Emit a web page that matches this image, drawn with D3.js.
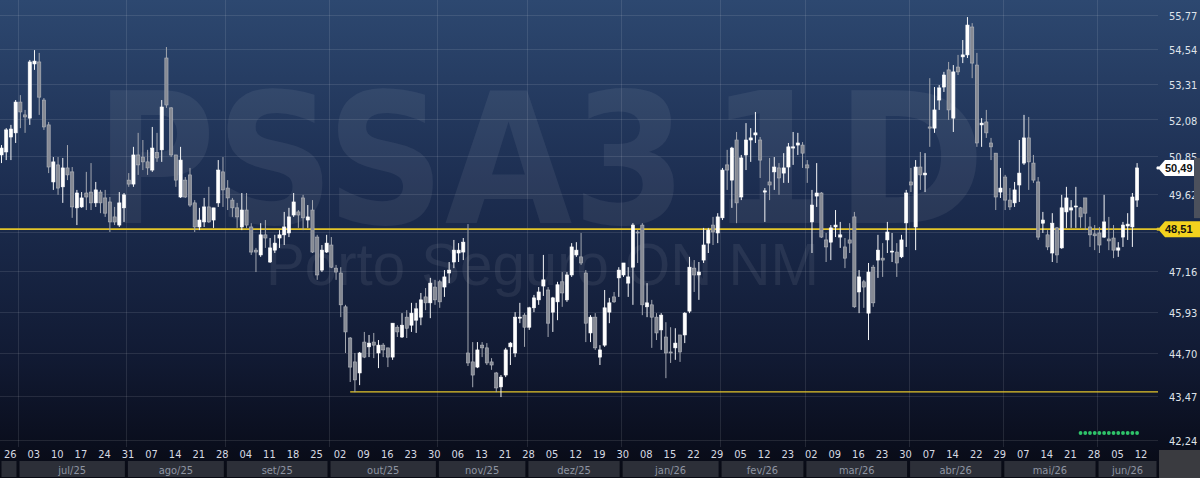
<!DOCTYPE html>
<html>
<head>
<meta charset="utf-8">
<script src="https://cdn.jsdelivr.net/npm/d3@7"></script>
<style>
  html, body { margin: 0; padding: 0; background: #090b14; overflow: hidden; }
  svg { display: block; }
</style>
</head>
<body>
<svg id="chart" width="1200" height="478"></svg>
<script>
// trading calendar (B3), daily bars
const firstDay = "2025-06-24";
const lastDay = "2026-06-12";
const holidays = ["2025-11-20", "2025-12-24", "2025-12-25", "2025-12-31", "2026-01-01",
  "2026-02-16", "2026-02-17", "2026-04-03", "2026-04-21", "2026-05-01", "2026-06-04"];
const monthNames = ["jan", "fev", "mar", "abr", "mai", "jun", "jul", "ago", "set", "out", "nov", "dez"];

const priceTicks = [42.24, 43.47, 44.70, 45.93, 47.16, 48.39, 49.62, 50.85, 52.08, 53.31, 54.54, 55.77];

const openV = [51.00, 50.92, 51.02, 51.52, 51.66, 52.71, 52.27, 52.16, 54.04, 54.11,
  52.78, 51.93, 50.03, 50.59, 49.87, 50.49, 50.36, 49.19, 49.22, 49.67,
  49.70, 49.35, 49.70, 49.51, 49.38, 48.90, 48.64, 49.19, 50.09, 49.96,
  50.92, 50.85, 50.69, 50.42, 51.00, 51.09, 54.25, 52.51, 50.92, 49.54,
  50.09, 50.26, 49.35, 48.58, 48.74, 49.22, 48.80, 49.35, 50.36, 49.83,
  49.44, 49.19, 48.58, 49.12, 48.58, 47.85, 47.70, 48.33, 47.48, 47.85,
  48.23, 48.33, 48.39, 48.96, 49.06, 49.51, 48.80, 49.12, 48.26, 47.23,
  47.79, 48.01, 47.29, 47.14, 46.11, 45.18, 44.48, 44.16, 45.06, 44.92,
  45.06, 44.74, 44.97, 44.89, 44.62, 45.50, 45.21, 45.80, 45.56, 45.71,
  45.80, 46.41, 46.23, 46.71, 46.87, 46.71, 47.14, 47.48, 47.76, 47.79,
  44.74, 44.48, 44.33, 44.97, 44.89, 44.48, 44.16, 43.76, 44.10, 44.92,
  44.74, 45.77, 45.86, 45.50, 46.08, 46.32, 46.74, 46.62, 45.95, 46.26,
  46.87, 46.32, 47.08, 47.70, 47.64, 47.14, 45.33, 45.80, 44.62, 44.97,
  45.95, 46.41, 46.99, 47.08, 46.83, 47.32, 48.42, 48.64, 46.11, 46.17,
  45.80, 45.42, 45.21, 44.77, 44.89, 45.27, 45.27, 45.98, 47.29, 47.08,
  47.54, 48.07, 48.64, 48.39, 48.87, 50.59, 50.09, 51.42, 49.54, 50.92,
  51.42, 51.59, 51.42, 49.70, 50.03, 50.36, 50.49, 50.32, 50.52, 51.15,
  51.25, 51.25, 50.59, 48.74, 49.57, 49.67, 48.17, 48.10, 48.58, 48.26,
  47.95, 48.17, 48.90, 46.56, 46.87, 45.92, 47.32, 47.54, 47.60, 48.17,
  47.79, 47.79, 47.64, 48.71, 50.03, 48.58, 50.52, 50.26, 51.86, 51.82,
  52.78, 53.23, 53.83, 52.16, 53.93, 54.29, 54.36, 55.36, 54.00, 51.93,
  52.03, 51.32, 50.98, 49.70, 50.19, 49.44, 49.35, 49.93, 50.65, 51.49,
  50.65, 50.03, 48.70, 48.33, 47.76, 48.55, 47.92, 49.06, 49.12, 49.22,
  49.19, 49.51, 48.58, 48.36, 48.39, 48.26, 48.20, 48.23, 47.85, 48.26,
  48.61, 48.58, 49.44];

const highV = [51.20, 51.25, 51.82, 51.93, 52.78, 52.95, 52.44, 54.18, 54.53, 54.43,
  52.85, 52.03, 50.85, 50.85, 50.82, 51.25, 50.52, 49.77, 49.70, 50.36,
  50.65, 50.03, 49.77, 49.77, 49.54, 49.22, 49.70, 49.67, 50.32, 51.19,
  51.66, 51.42, 51.09, 51.86, 51.66, 52.78, 54.64, 52.54, 50.92, 51.19,
  50.19, 50.49, 49.44, 49.19, 49.51, 49.87, 49.19, 50.75, 50.85, 50.09,
  49.51, 49.35, 49.67, 49.67, 48.70, 47.92, 48.70, 48.80, 48.23, 48.33,
  48.48, 49.06, 49.19, 49.67, 49.12, 49.61, 49.28, 49.44, 48.33, 48.01,
  48.33, 48.26, 47.39, 47.32, 46.17, 45.21, 44.74, 44.77, 45.36, 45.27,
  45.33, 45.12, 45.03, 44.89, 45.62, 45.56, 45.92, 46.01, 46.23, 46.23,
  46.53, 46.68, 46.99, 46.93, 46.93, 47.23, 47.48, 48.17, 48.07, 48.23,
  48.67, 45.06, 45.06, 45.06, 45.03, 44.59, 44.19, 44.10, 44.89, 45.06,
  45.95, 46.23, 45.92, 46.11, 46.47, 46.71, 47.70, 46.71, 46.41, 46.87,
  47.17, 47.17, 48.07, 48.10, 48.39, 47.23, 45.86, 45.92, 44.97, 46.62,
  46.38, 46.56, 47.32, 47.45, 47.32, 48.70, 48.48, 48.70, 46.83, 46.32,
  45.92, 45.92, 45.65, 45.50, 45.47, 45.27, 45.95, 47.64, 47.54, 47.48,
  48.55, 48.55, 48.90, 49.02, 50.49, 51.09, 51.19, 51.69, 50.92, 51.99,
  51.82, 52.37, 51.52, 49.83, 50.82, 50.85, 50.65, 50.98, 51.32, 51.69,
  51.66, 51.35, 50.75, 49.77, 50.65, 49.70, 48.39, 48.64, 49.12, 48.74,
  48.23, 48.70, 49.06, 47.23, 46.93, 47.45, 47.39, 48.33, 48.07, 48.74,
  48.39, 48.07, 48.33, 49.77, 50.49, 50.75, 51.02, 50.98, 53.54, 53.23,
  53.30, 53.76, 54.11, 54.00, 54.36, 54.89, 55.72, 55.50, 54.43, 52.16,
  52.44, 51.49, 50.98, 50.49, 50.26, 49.83, 50.03, 51.42, 52.27, 52.20,
  50.92, 50.19, 49.06, 48.48, 49.02, 48.58, 49.61, 49.87, 49.44, 49.87,
  49.22, 49.51, 48.90, 48.64, 48.58, 49.61, 48.90, 48.64, 48.10, 48.74,
  49.02, 49.67, 50.65];

const lowV = [50.70, 50.65, 50.75, 50.75, 51.32, 51.82, 51.66, 51.93, 53.83, 52.27,
  51.76, 50.32, 49.77, 49.61, 49.35, 50.09, 48.87, 48.64, 49.19, 49.12,
  49.12, 49.22, 49.02, 48.90, 48.42, 48.64, 48.58, 48.74, 49.87, 49.87,
  50.26, 50.42, 50.26, 50.36, 50.69, 50.69, 52.51, 50.85, 49.87, 49.51,
  49.51, 49.22, 48.42, 48.48, 48.58, 48.71, 48.55, 49.22, 49.22, 49.12,
  48.90, 48.55, 48.48, 48.55, 47.70, 47.17, 47.64, 47.92, 47.45, 47.76,
  47.92, 48.01, 48.26, 48.90, 48.55, 48.48, 48.55, 47.76, 46.93, 47.17,
  47.76, 47.29, 46.93, 45.80, 44.74, 43.90, 43.61, 43.81, 44.59, 44.62,
  44.59, 44.30, 44.62, 44.33, 44.54, 45.21, 45.18, 45.18, 45.36, 45.33,
  45.56, 46.01, 45.77, 46.17, 46.08, 46.41, 46.83, 47.29, 47.48, 47.54,
  44.36, 43.75, 44.30, 44.62, 44.39, 44.25, 43.61, 43.47, 44.04, 44.39,
  44.62, 45.62, 44.92, 45.42, 45.95, 46.17, 46.44, 45.21, 45.36, 45.71,
  46.11, 46.26, 47.02, 47.64, 47.39, 45.06, 45.06, 44.83, 44.39, 44.92,
  45.62, 46.23, 46.41, 47.02, 46.41, 46.17, 47.45, 45.86, 45.80, 44.89,
  45.12, 44.83, 44.01, 44.45, 44.54, 44.48, 45.03, 45.92, 46.56, 46.32,
  47.45, 47.76, 48.01, 48.07, 48.80, 49.77, 49.19, 48.70, 49.44, 50.42,
  50.69, 51.32, 50.16, 48.74, 49.44, 49.77, 49.61, 50.00, 50.00, 50.59,
  50.92, 50.49, 50.00, 47.76, 49.22, 48.23, 47.48, 47.54, 48.26, 47.92,
  47.29, 47.76, 46.08, 45.92, 46.08, 45.12, 46.11, 46.99, 47.02, 47.76,
  47.48, 47.02, 47.60, 47.95, 49.70, 47.85, 49.77, 49.70, 51.19, 51.66,
  52.44, 53.06, 52.10, 51.69, 53.65, 54.07, 54.25, 53.54, 51.19, 51.19,
  51.49, 50.75, 49.12, 49.51, 49.12, 49.12, 49.22, 49.38, 50.59, 49.77,
  50.00, 48.17, 48.39, 47.85, 47.48, 47.45, 47.89, 48.55, 48.55, 48.55,
  48.55, 48.48, 47.95, 47.85, 47.76, 48.23, 47.85, 47.60, 47.64, 47.95,
  48.17, 47.95, 49.22];

const closeV = [50.85, 51.15, 51.76, 51.79, 52.71, 52.37, 52.20, 54.11, 54.14, 52.88,
  51.86, 50.52, 50.69, 49.83, 50.49, 50.26, 49.22, 49.67, 49.51, 49.54,
  49.35, 49.77, 49.35, 49.02, 48.74, 48.74, 49.35, 49.61, 49.96, 50.92,
  50.59, 50.69, 50.49, 51.15, 50.82, 52.54, 52.61, 50.92, 50.09, 50.75,
  49.54, 49.28, 48.58, 48.80, 49.22, 48.74, 49.19, 50.42, 49.77, 49.51,
  49.19, 48.90, 49.12, 48.64, 47.79, 47.79, 48.33, 48.23, 47.92, 48.07,
  48.33, 48.58, 48.90, 49.38, 48.96, 48.87, 48.90, 47.79, 47.08, 47.85,
  48.07, 47.32, 47.17, 46.17, 45.36, 44.33, 43.96, 44.74, 44.62, 45.03,
  44.97, 44.97, 44.83, 44.62, 45.62, 45.36, 45.56, 45.47, 45.92, 46.05,
  46.32, 46.23, 46.83, 46.32, 46.26, 47.02, 47.23, 47.85, 47.85, 48.10,
  44.45, 44.10, 44.83, 44.89, 44.45, 44.39, 43.73, 44.04, 44.83, 45.03,
  45.80, 45.80, 45.50, 46.08, 46.38, 46.56, 46.93, 45.62, 46.38, 46.78,
  46.53, 47.08, 47.95, 47.85, 47.45, 45.62, 45.80, 44.89, 44.83, 46.08,
  46.23, 46.26, 47.23, 47.45, 47.02, 48.64, 48.39, 46.17, 46.23, 45.80,
  45.33, 45.86, 44.74, 44.74, 45.03, 44.77, 45.92, 47.32, 47.08, 47.17,
  48.01, 48.48, 48.42, 48.90, 50.42, 50.42, 51.15, 49.35, 50.82, 51.42,
  51.49, 51.66, 50.75, 49.74, 49.93, 50.52, 50.16, 50.49, 51.19, 51.19,
  51.32, 50.98, 50.49, 49.28, 49.67, 48.26, 47.95, 48.55, 48.64, 48.33,
  47.60, 48.07, 46.11, 47.02, 46.71, 47.17, 46.23, 47.85, 47.54, 48.42,
  47.82, 47.45, 48.17, 49.67, 49.93, 50.52, 50.26, 50.32, 51.82, 52.44,
  53.20, 53.65, 52.44, 53.76, 53.76, 54.36, 55.43, 54.07, 51.32, 51.99,
  51.66, 51.19, 49.54, 49.83, 49.44, 49.22, 49.77, 50.32, 51.49, 50.69,
  50.09, 48.26, 48.80, 47.95, 48.70, 47.70, 49.19, 49.51, 49.19, 49.25,
  48.90, 49.02, 48.33, 48.30, 48.01, 48.74, 48.14, 47.85, 47.92, 48.64,
  48.67, 49.54, 50.49];

const lastPrice = 50.49;
const refLevel = 48.51;
const supportLevel = 43.62;
const supportFromBar = 75;
const signalBars = 13;
const tickerName = "PSSA3";
const periodName = "1D";
const companyName = "Porto Seguro ON NM";

// ---- layout ----
const W = 1200, H = 478;
const plotRight = 1158, plotBottom = 447;
const axisFont = "DejaVu Sans Condensed, DejaVu Sans, sans-serif";

const parseDay = d3.timeParse("%Y-%m-%d");
const fmtDay = d3.timeFormat("%Y-%m-%d");
const dates = d3.timeDay.range(parseDay(firstDay), d3.timeDay.offset(parseDay(lastDay), 1))
  .filter(d => d.getDay() % 6 !== 0 && !holidays.includes(fmtDay(d)));

const bars = closeV.map((c, i) => ({ i, date: dates[i], o: openV[i], h: highV[i], l: lowV[i], c }));

const x = d3.scaleLinear().domain([0, bars.length - 1]).range([-3.2, 1137.1]);
const y = d3.scaleLog().domain([42.24, 55.77]).range([441, 15.7]);

const svg = d3.select("#chart");
const defs = svg.append("defs");

const bg = defs.append("linearGradient").attr("id", "bg")
  .attr("x1", 0).attr("y1", 0).attr("x2", 0).attr("y2", 1);
bg.append("stop").attr("offset", "0%").attr("stop-color", "#2d4870");
bg.append("stop").attr("offset", "40%").attr("stop-color", "#1c2d50");
bg.append("stop").attr("offset", "75%").attr("stop-color", "#111a33");
bg.append("stop").attr("offset", "93%").attr("stop-color", "#0a0e1d");
bg.append("stop").attr("offset", "100%").attr("stop-color", "#080a13");

defs.append("clipPath").attr("id", "plotClip")
  .append("rect").attr("x", 0).attr("y", 0).attr("width", plotRight).attr("height", plotBottom);

svg.append("rect").attr("width", W).attr("height", H).attr("fill", "url(#bg)");

// month boundaries
const monthStarts = bars.filter((b, i) => i > 0 && b.date.getMonth() !== bars[i - 1].date.getMonth()).map(b => b.i);
const bounds = [0, ...monthStarts.map(i => x(i - 0.5)), plotRight];
const monthSegs = d3.range(bounds.length - 1).map(j => {
  const d = j === 0 ? bars[0].date : bars[monthStarts[j - 1]].date;
  return { x0: bounds[j], x1: bounds[j + 1], label: monthNames[d.getMonth()] + "/" + d3.timeFormat("%y")(d) };
});

// grid
const grid = svg.append("g").attr("stroke", "#ffffff").attr("stroke-opacity", 0.1).attr("stroke-width", 1);
grid.selectAll("line.h").data(priceTicks).join("line")
  .attr("x1", 0).attr("x2", plotRight)
  .attr("y1", d => Math.round(y(d)) - 0.5).attr("y2", d => Math.round(y(d)) - 0.5);
grid.selectAll("line.v").data(monthStarts).join("line")
  .attr("x1", d => Math.round(x(d - 0.5)) + 0.5).attr("x2", d => Math.round(x(d - 0.5)) + 0.5)
  .attr("y1", 0).attr("y2", plotBottom);

// watermark
const wm = svg.append("g").attr("fill", "#ffffff").attr("fill-opacity", 0.065)
  .attr("font-family", "DejaVu Sans Condensed, DejaVu Sans, sans-serif").attr("font-weight", "bold")
  .attr("font-size", 182);
wm.append("text").attr("x", 95).attr("y", 223)
  .attr("textLength", 592).attr("lengthAdjust", "spacingAndGlyphs").text(tickerName);
wm.append("text").attr("x", 708).attr("y", 223)
  .attr("textLength", 278).attr("lengthAdjust", "spacingAndGlyphs").text(periodName);
svg.append("text").attr("x", 266).attr("y", 285)
  .attr("font-family", "Liberation Sans, Arial, sans-serif")
  .attr("font-size", 60).attr("textLength", 553).attr("lengthAdjust", "spacingAndGlyphs")
  .attr("fill", "#ffffff").attr("fill-opacity", 0.07).text(companyName);

// reference lines
const yellow = "#e3c52a";
svg.append("line").attr("x1", 0).attr("x2", plotRight)
  .attr("y1", y(refLevel)).attr("y2", y(refLevel))
  .attr("stroke", yellow).attr("stroke-width", 1.6);
svg.append("line").attr("x1", x(supportFromBar)).attr("x2", plotRight)
  .attr("y1", y(supportLevel)).attr("y2", y(supportLevel))
  .attr("stroke", yellow).attr("stroke-width", 1.3);

// candles
const cg = svg.append("g").attr("clip-path", "url(#plotClip)");
const candle = cg.selectAll("g.candle").data(bars).join("g").attr("class", "candle");
candle.append("line")
  .attr("x1", d => x(d.i)).attr("x2", d => x(d.i))
  .attr("y1", d => y(d.h)).attr("y2", d => y(d.l))
  .attr("stroke", d => d.c >= d.o ? "#f4f5f7" : "#a3a7b0").attr("stroke-width", 1);
candle.append("rect")
  .attr("x", d => x(d.i) - 1.6).attr("width", 3.2)
  .attr("y", d => y(Math.max(d.o, d.c)))
  .attr("height", d => Math.max(1, Math.abs(y(d.o) - y(d.c))))
  .attr("fill", d => d.c >= d.o ? "#ffffff" : "#868a94")
  .attr("stroke", d => d.c >= d.o ? "#ffffff" : "#b4b7be").attr("stroke-width", 0.6);

// signal dots
svg.append("g").selectAll("circle").data(bars.slice(-signalBars)).join("circle")
  .attr("cx", d => x(d.i)).attr("cy", plotBottom - 14).attr("r", 1.9)
  .attr("fill", "#2fc46a");

// x axis: day labels every 5 bars
const xAxis = d3.axisBottom(x)
  .tickValues(d3.range(2, bars.length, 5))
  .tickSize(0).tickPadding(0)
  .tickFormat(i => d3.timeFormat("%d")(bars[i].date));
const xg = svg.append("g").attr("transform", `translate(0,${plotBottom + 3})`).call(xAxis);
xg.select(".domain").remove();
xg.selectAll("text").attr("dx", 3.5).attr("dy", "0.75em")
  .attr("fill", "#d6dae2").attr("font-size", 11).attr("font-family", axisFont);

// month boxes
const mg = svg.append("g");
mg.selectAll("rect").data(monthSegs).join("rect")
  .attr("x", d => d.x0 + 1.5).attr("width", d => Math.max(0, d.x1 - d.x0 - 3))
  .attr("y", 461).attr("height", 16).attr("fill", "#2c2f38");
mg.selectAll("text").data(monthSegs.filter(d => d.x1 - d.x0 > 40)).join("text")
  .attr("x", d => (d.x0 + d.x1) / 2).attr("y", 473.5).attr("text-anchor", "middle")
  .attr("fill", "#8e95a2").attr("font-size", 11).attr("font-family", axisFont)
  .text(d => d.label);
svg.append("rect").attr("x", plotRight + 1).attr("y", 450).attr("width", W - plotRight - 1).attr("height", H - 450)
  .attr("fill", "#3a3b40");

// y axis (the tick hidden under the reference tag is not labelled)
const yAxis = d3.axisRight(y)
  .tickValues(priceTicks.filter(v => Math.abs(y(v) - y(refLevel)) > 8))
  .tickSize(0).tickPadding(0)
  .tickFormat(d => d.toFixed(2).replace(".", ","));
const yg = svg.append("g").attr("transform", `translate(${plotRight + 11},0)`).call(yAxis);
yg.select(".domain").remove();
yg.selectAll("text").attr("fill", "#dfe3ea").attr("font-size", 11).attr("font-family", axisFont);

// price tags
function tag(value, right, fill, textFill) {
  const yy = y(value);
  const g = svg.append("g");
  g.append("path")
    .attr("d", `M${plotRight},${yy} L${plotRight + 7},${yy - 8} L${right},${yy - 8} L${right},${yy + 8} L${plotRight + 7},${yy + 8} Z`)
    .attr("fill", fill);
  g.append("text").attr("x", plotRight + 7).attr("y", yy + 4)
    .attr("font-size", 11).attr("font-weight", "bold").attr("fill", textFill)
    .attr("font-family", "Liberation Sans, Arial, sans-serif")
    .text(value.toFixed(2).replace(".", ","));
}
svg.append("rect").attr("x", 1194).attr("y", y(lastPrice) - 10).attr("width", 6)
  .attr("height", y(refLevel) - 11 - y(lastPrice) + 10).attr("fill", "#4b505c");
tag(refLevel, W, "#f3d21e", "#111111");
tag(lastPrice, 1194, "#ffffff", "#111111");
svg.append("circle").attr("cx", plotRight).attr("cy", y(lastPrice)).attr("r", 1.6).attr("fill", "#ffffff");
svg.append("circle").attr("cx", plotRight).attr("cy", y(refLevel)).attr("r", 1.6).attr("fill", yellow);
</script>
</body>
</html>
